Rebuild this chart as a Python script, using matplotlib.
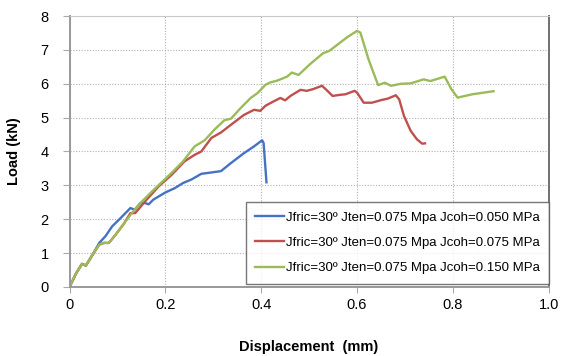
import matplotlib
matplotlib.use("Agg")
import matplotlib.pyplot as plt

plt.rcParams['font.family'] = ['Liberation Sans', 'DejaVu Sans']

blue_x = [0, 0.014, 0.026, 0.034, 0.048, 0.062, 0.075, 0.089, 0.107, 0.127, 0.136, 0.148, 0.157, 0.165,
          0.175, 0.2, 0.22, 0.237, 0.254, 0.275, 0.296, 0.316, 0.337, 0.364, 0.385, 0.402, 0.405, 0.411]
blue_y = [0, 0.41, 0.68, 0.63, 0.95, 1.30, 1.50, 1.79, 2.04, 2.33, 2.28, 2.48, 2.48, 2.44,
          2.58, 2.79, 2.92, 3.07, 3.17, 3.34, 3.38, 3.42, 3.66, 3.95, 4.15, 4.33, 4.25, 3.09]

red_x = [0, 0.014, 0.026, 0.034, 0.048, 0.062, 0.072, 0.082, 0.096, 0.113, 0.127, 0.137, 0.158, 0.186,
         0.213, 0.24, 0.261, 0.275, 0.296, 0.316, 0.337, 0.364, 0.385, 0.398, 0.409, 0.426, 0.44,
         0.45, 0.461, 0.475, 0.482, 0.495, 0.508, 0.527, 0.536, 0.549, 0.563, 0.576, 0.595, 0.6,
         0.614, 0.631, 0.651, 0.664, 0.681, 0.688, 0.698, 0.712, 0.725, 0.736, 0.742]
red_y = [0, 0.41, 0.68, 0.63, 0.95, 1.25, 1.30, 1.30, 1.54, 1.86, 2.18, 2.18, 2.53, 2.97,
         3.31, 3.71, 3.90, 4.00, 4.40, 4.56, 4.79, 5.08, 5.23, 5.20, 5.35, 5.48, 5.58,
         5.51, 5.64, 5.76, 5.82, 5.79, 5.84, 5.94, 5.82, 5.64, 5.67, 5.69, 5.79, 5.74,
         5.44, 5.44, 5.52, 5.56, 5.66, 5.54, 5.05, 4.61, 4.36, 4.23, 4.24]

green_x = [0, 0.014, 0.026, 0.034, 0.048, 0.062, 0.072, 0.082, 0.096, 0.113, 0.131, 0.148, 0.172, 0.196,
           0.216, 0.237, 0.261, 0.282, 0.302, 0.323, 0.337, 0.357, 0.378, 0.392, 0.409, 0.419, 0.433,
           0.454, 0.464, 0.478, 0.502, 0.529, 0.542, 0.556, 0.58, 0.6, 0.607, 0.624, 0.644, 0.658,
           0.671, 0.692, 0.712, 0.739, 0.753, 0.783, 0.797, 0.81, 0.841, 0.885]
green_y = [0, 0.41, 0.68, 0.63, 0.95, 1.25, 1.30, 1.30, 1.54, 1.86, 2.20, 2.48, 2.82, 3.14,
           3.41, 3.71, 4.15, 4.33, 4.64, 4.92, 4.97, 5.28, 5.58, 5.72, 5.97, 6.04, 6.09,
           6.21, 6.33, 6.26, 6.58, 6.90, 6.97, 7.12, 7.38, 7.56, 7.51, 6.72, 5.96, 6.03,
           5.94, 6.00, 6.01, 6.13, 6.08, 6.21, 5.84, 5.59, 5.69, 5.78]

labels = ["Jfric=30º Jten=0.075 Mpa Jcoh=0.050 MPa",
          "Jfric=30º Jten=0.075 Mpa Jcoh=0.075 MPa",
          "Jfric=30º Jten=0.075 Mpa Jcoh=0.150 MPa"]
colors = ["#4472C4", "#C0504D", "#9BBB59"]

x_ticks = [0, 0.2, 0.4, 0.6, 0.8, 1.0]
x_ticklabels = ["0", "0.2", "0.4", "0.6", "0.8", "1.0"]
y_ticks = [0, 1, 2, 3, 4, 5, 6, 7, 8]

fig = plt.figure(figsize=(5.61, 3.56), dpi=100)
ax = fig.add_axes([0.124, 0.194, 0.854, 0.761])

for xs, ys, c, lab in zip([blue_x, red_x, green_x], [blue_y, red_y, green_y], colors, labels):
    ax.plot(xs, ys, color=c, lw=1.7, label=lab)
ax.set_xlim(0, 1.0)
ax.set_ylim(0, 8)
ax.set_xticks(x_ticks)
ax.set_xticklabels(x_ticklabels)
ax.set_yticks(y_ticks)
ax.grid(True, color="#b0b0b0", linestyle=(0, (1, 1.5)), linewidth=0.8)
ax.set_axisbelow(True)
ax.spines["top"].set_color("#c8c8c8")
ax.spines["top"].set_linewidth(0.8)
ax.spines["right"].set_color("#707070")
ax.spines["right"].set_linewidth(1.4)
for s in ["left", "bottom"]:
    ax.spines[s].set_color("#999999")
    ax.spines[s].set_linewidth(1.4)
ax.tick_params(axis="y", labelsize=10.5, colors="#aaaaaa", labelcolor="black", length=5, width=0.8, pad=10)
ax.tick_params(axis="x", labelsize=10.5, colors="#aaaaaa", labelcolor="black", length=4, width=0.8, pad=4)
ax.set_xlabel("Displacement  (mm)", fontsize=10.5, fontweight="bold", labelpad=20)
ax.set_ylabel("Load (kN)", fontsize=10.5, fontweight="bold", labelpad=14)

leg = ax.legend(loc="lower right", bbox_to_anchor=(1.0, 0.012), fontsize=9.5, frameon=True,
                fancybox=False, edgecolor="#555555", handlelength=2.2, handletextpad=0.1,
                labelspacing=1.0, borderpad=0.7, borderaxespad=0.0)
leg.get_frame().set_linewidth(1.0)

fig.savefig("out.png", dpi=100)
